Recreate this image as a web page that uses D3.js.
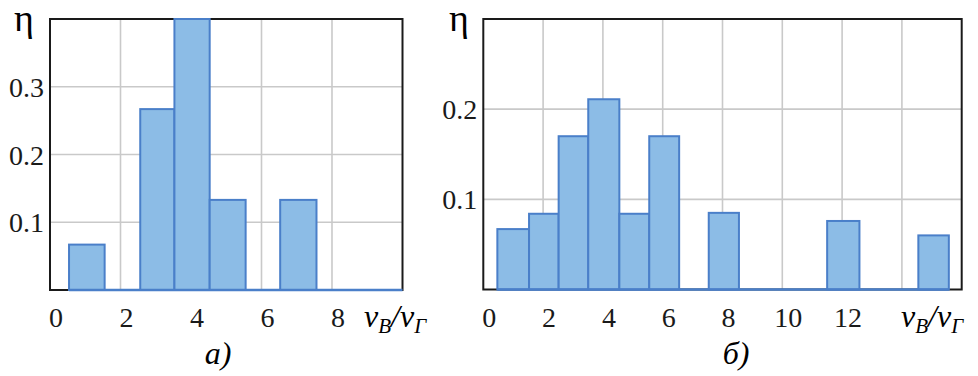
<!DOCTYPE html>
<html lang="ru">
<head>
    <meta charset="UTF-8">
    <title>Histograms</title>
    <script src="https://d3js.org/d3.v7.min.js"></script>
    <style>
        body{
            margin: 0;
            background: white;
        }
        text{
            font-family: "Liberation Serif", serif;
        }
        .tick-label{
            font-size: 28px;
            fill: #1a1a1a;
        }
        .grid{
            stroke: #c9c9c9;
            stroke-width: 1.6px;
        }
        .frame{
            fill: none;
            stroke: #1a1a1a;
            stroke-width: 2px;
        }
        .bar{
            fill: #8cbce6;
            stroke: #4a7fc9;
            stroke-width: 2px;
        }
    </style>
</head>
<body>
<svg id="canvas" width="978" height="376"></svg>
<script>
    // panel a)
    let binStartA = [0.54, 2.56, 3.53, 4.53, 6.53];
    let binEndA = [1.55, 3.53, 4.53, 5.55, 7.56];
    let etaA = [0.067, 0.267, 0.4, 0.133, 0.133];
    let spanA = [0.54, 10];          // histogram outline runs along the base up to here
    let xTicksA = [0, 2, 4, 6, 8];
    let xGridA = [2, 4, 6, 8];
    let yTicksA = [0.1, 0.2, 0.3];

    // panel б)
    let binStartB = [0.47, 1.53, 2.52, 3.51, 4.55, 5.55, 7.54, 11.5, 14.55];
    let binEndB = [1.53, 2.52, 3.51, 4.55, 5.55, 6.55, 8.55, 12.58, 15.57];
    let etaB = [0.067, 0.084, 0.17, 0.211, 0.084, 0.17, 0.085, 0.076, 0.060];
    let spanB = [0.47, 15.57];
    let xTicksB = [0, 2, 4, 6, 8, 10, 12];
    let xGridB = [2, 4, 6, 8, 10, 12, 14];
    let yTicksB = [0.1, 0.2];

    let svg = d3.select('#canvas');

    function panel(opt){
        let x = d3.scaleLinear().domain(opt.xDomain).range([opt.left, opt.right]);
        let y = d3.scaleLinear().domain(opt.yDomain).range([opt.bottom, opt.top]);
        let g = svg.append('g');

        // grid
        g.selectAll('line.gx').data(opt.xGrid).enter().append('line')
            .attr('class', 'grid')
            .attr('x1', d => x(d)).attr('x2', d => x(d))
            .attr('y1', opt.top).attr('y2', opt.bottom);
        g.selectAll('line.gy').data(opt.yTicks).enter().append('line')
            .attr('class', 'grid')
            .attr('x1', opt.left).attr('x2', opt.right)
            .attr('y1', d => y(d)).attr('y2', d => y(d));

        g.append('rect').attr('class', 'frame')
            .attr('x', opt.left).attr('y', opt.top)
            .attr('width', opt.right - opt.left).attr('height', opt.bottom - opt.top);

        // bars
        g.selectAll('rect.bar').data(opt.eta).enter().append('rect')
            .attr('class', 'bar')
            .attr('x', (d, i) => x(opt.x0[i]))
            .attr('width', (d, i) => x(opt.x1[i]) - x(opt.x0[i]))
            .attr('y', d => y(d))
            .attr('height', d => y(0) - y(d));

        // blue base of the histogram outline
        g.append('line')
            .attr('x1', x(opt.span[0])).attr('x2', x(opt.span[1]))
            .attr('y1', y(0)).attr('y2', y(0))
            .attr('stroke', '#4a7fc9').attr('stroke-width', 2.4);

        // tick labels
        g.selectAll('text.xl').data(opt.xTicks).enter().append('text')
            .attr('class', 'tick-label')
            .attr('x', d => x(d) + 6)
            .attr('y', opt.bottom + 37)
            .attr('text-anchor', 'middle')
            .text(d => d);
        g.selectAll('text.yl').data(opt.yTicks).enter().append('text')
            .attr('class', 'tick-label')
            .attr('x', opt.left - 6)
            .attr('y', d => y(d) + 10)
            .attr('text-anchor', 'end')
            .text(d => d3.format('.1f')(d));

        // axis names
        g.append('text')
            .attr('x', opt.etaX).attr('y', 31)
            .style('font-size', '38px')
            .text('η');

        let t = g.append('text')
            .attr('x', opt.labelX).attr('y', opt.bottom + 37)
            .style('font-style', 'italic')
            .style('font-size', '32px');
        t.append('tspan').text('ν');
        t.append('tspan').attr('dy', 6).style('font-size', '21px').text('B');
        t.append('tspan').attr('dy', -6).text('/ν');
        t.append('tspan').attr('dy', 6).style('font-size', '21px').text('Γ');

        g.append('text')
            .attr('x', opt.captionX).attr('y', 364)
            .attr('text-anchor', 'middle')
            .style('font-style', 'italic')
            .style('font-size', '32px')
            .text(opt.caption);
    }

    panel({
        x0: binStartA, x1: binEndA, eta: etaA, span: spanA,
        xTicks: xTicksA, xGrid: xGridA, yTicks: yTicksA,
        xDomain: [0, 10], yDomain: [0, 0.4],
        left: 50, right: 402.5, top: 19, bottom: 290,
        etaX: 14, labelX: 364, captionX: 218, caption: 'а)'
    });

    panel({
        x0: binStartB, x1: binEndB, eta: etaB, span: spanB,
        xTicks: xTicksB, xGrid: xGridB, yTicks: yTicksB,
        xDomain: [0, 16], yDomain: [0, 0.3],
        left: 483.3, right: 961.7, top: 19, bottom: 289.5,
        etaX: 449, labelX: 901, captionX: 736, caption: 'б)'
    });
</script>
</body>
</html>
